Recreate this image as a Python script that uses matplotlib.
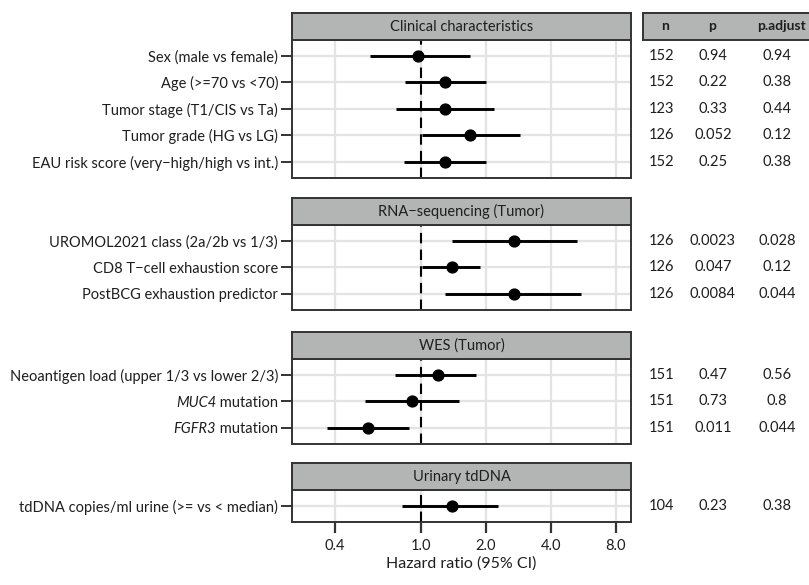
import numpy as np
import matplotlib.pyplot as plt
from matplotlib import transforms
from matplotlib.offsetbox import TextArea, HPacker, AnnotationBbox

plt.rcParams['font.family'] = ['Lato', 'DejaVu Sans']

# data
groups = ["Clinical characteristics", "RNA\u2212sequencing (Tumor)", "WES (Tumor)", "Urinary tdDNA"]

labels = [
    ["Sex (male vs female)", "Age (>=70 vs <70)", "Tumor stage (T1/CIS vs Ta)",
     "Tumor grade (HG vs LG)", "EAU risk score (very\u2212high/high vs int.)"],
    ["UROMOL2021 class (2a/2b vs 1/3)", "CD8 T\u2212cell exhaustion score",
     "PostBCG exhaustion predictor"],
    ["Neoantigen load (upper 1/3 vs lower 2/3)", "MUC4 mutation",
     "FGFR3 mutation"],
    ["tdDNA copies/ml urine (>= vs < median)"],
]
italic_genes = ["MUC4", "FGFR3"]

hr = [[0.975, 1.30, 1.30, 1.69, 1.30],
      [2.70, 1.40, 2.70],
      [1.20, 0.91, 0.57],
      [1.39]]
ci_lo = [[0.58, 0.85, 0.77, 1.01, 0.84],
         [1.40, 1.01, 1.30],
         [0.76, 0.55, 0.37],
         [0.82]]
ci_hi = [[1.69, 2.00, 2.19, 2.88, 2.00],
         [5.26, 1.89, 5.49],
         [1.80, 1.50, 0.88],
         [2.29]]
n_vals = [["152", "152", "123", "126", "152"],
          ["126", "126", "126"],
          ["151", "151", "151"],
          ["104"]]
p_vals = [["0.94", "0.22", "0.33", "0.052", "0.25"],
          ["0.0023", "0.047", "0.0084"],
          ["0.47", "0.73", "0.011"],
          ["0.23"]]
padj_vals = [["0.94", "0.38", "0.44", "0.12", "0.38"],
             ["0.028", "0.12", "0.044"],
             ["0.56", "0.8", "0.044"],
             ["0.38"]]

xticks = [0.4, 1.0, 2.0, 4.0, 8.0]
xticklabels = ["0.4", "1.0", "2.0", "4.0", "8.0"]

W, H = 809, 585
fig = plt.figure(figsize=(W / 100, H / 100), dpi=100)

FS = 10.5
txt_col = '#1e1e1e'
border = '#333333'
strip_col = '#b3b4b4'
grid_col = '#e3e3e3'
tick_len, tick_pad = 8, 2

left, right = 292, 631
bottoms = [177.5, 309.5, 443.5, 522]
row_h = 26.5
strip_h = 27

def fx(px):
    return px / W

def fy(py):
    return 1 - py / H

for g in range(len(groups)):
    nrow = len(labels[g])
    h = (nrow + 0.2) * row_h
    bot = bottoms[g]
    top = bot - h
    ax = fig.add_axes([fx(left), fy(bot), fx(right - left), h / H])
    ys = np.arange(nrow)
    ax.set_xscale('log')
    ax.set_xlim(0.254, 9.39)
    ax.set_ylim(nrow - 0.4, -0.6)
    for xv in xticks:
        ax.axvline(xv, color=grid_col, lw=1.6, zorder=0)
    for yv in ys:
        ax.axhline(yv, color=grid_col, lw=1.6, zorder=0)
    ax.axvline(1.0, color='black', lw=1.5, ls=(0, (5, 3)), zorder=1)
    ax.hlines(ys, ci_lo[g], ci_hi[g], color='black', lw=2.1, zorder=2)
    ax.plot(hr[g], ys, 'o', color='black', ms=7.8, zorder=3)

    # y labels; gene names drawn in italics
    ylabs = []
    ytr = transforms.blended_transform_factory(ax.transAxes, ax.transData)
    for i, lab in enumerate(labels[g]):
        first, _, rest = lab.partition(' ')
        if first in italic_genes:
            ylabs.append('')
            box = HPacker(children=[
                TextArea(first, textprops=dict(fontsize=FS, style='italic', color=txt_col)),
                TextArea('\u00a0' + rest, textprops=dict(fontsize=FS, color=txt_col)),
            ], pad=0, sep=0, align='baseline')
            ab = AnnotationBbox(box, (0, ys[i]), xycoords=ytr,
                                xybox=(-(tick_len + tick_pad), -1.2),
                                boxcoords='offset points', box_alignment=(1, 0.5),
                                frameon=False, annotation_clip=False, pad=0)
            ax.add_artist(ab)
        else:
            ylabs.append(lab)
    ax.set_yticks(ys)
    ax.set_yticklabels(ylabs, fontsize=FS, color=txt_col)
    ax.tick_params(axis='y', length=tick_len, width=1.4, color=border, pad=tick_pad)
    ax.set_xticks(xticks)
    ax.minorticks_off()
    if g == len(groups) - 1:
        ax.set_xticklabels(xticklabels, fontsize=FS, color=txt_col)
        ax.tick_params(axis='x', length=tick_len, width=1.6, color=border, pad=4)
        ax.set_xlabel("Hazard ratio (95% CI)", fontsize=11.5, labelpad=3,
                      color=txt_col)
    else:
        ax.tick_params(axis='x', length=0, labelbottom=False)
    for s in ax.spines.values():
        s.set_color(border)
        s.set_linewidth(1.4)

    # strip header
    sax = fig.add_axes([fx(left), fy(top), fx(right - left), strip_h / H])
    sax.set_facecolor(strip_col)
    sax.set_xticks([])
    sax.set_yticks([])
    for s in sax.spines.values():
        s.set_color(border)
        s.set_linewidth(1.4)
    sax.text(0.5, 0.48, groups[g], ha='center', va='center', fontsize=FS,
             color=txt_col, transform=sax.transAxes)

    # table values
    tr = transforms.blended_transform_factory(fig.transFigure, ax.transData)
    for i in range(nrow):
        ax.text(fx(662), ys[i], n_vals[g][i], ha='center', va='center',
                fontsize=FS, color=txt_col, transform=tr, clip_on=False)
        ax.text(fx(713), ys[i], p_vals[g][i], ha='center', va='center',
                fontsize=FS, color=txt_col, transform=tr, clip_on=False)
        ax.text(fx(777), ys[i], padj_vals[g][i], ha='center', va='center',
                fontsize=FS, color=txt_col, transform=tr, clip_on=False)

# table header strip
tax = fig.add_axes([fx(643), fy(40), fx(814 - 643), strip_h / H])
tax.set_facecolor(strip_col)
tax.set_xticks([])
tax.set_yticks([])
for s in tax.spines.values():
    s.set_color(border)
    s.set_linewidth(1.4)
for txt, xp in [("n", 665), ("p", 712), ("p.adjust", 782)]:
    fig.text(fx(xp), fy(26.5), txt, ha='center', va='center', fontsize=10,
             fontweight='bold', color=txt_col)

fig.savefig('out.png', dpi=100)
